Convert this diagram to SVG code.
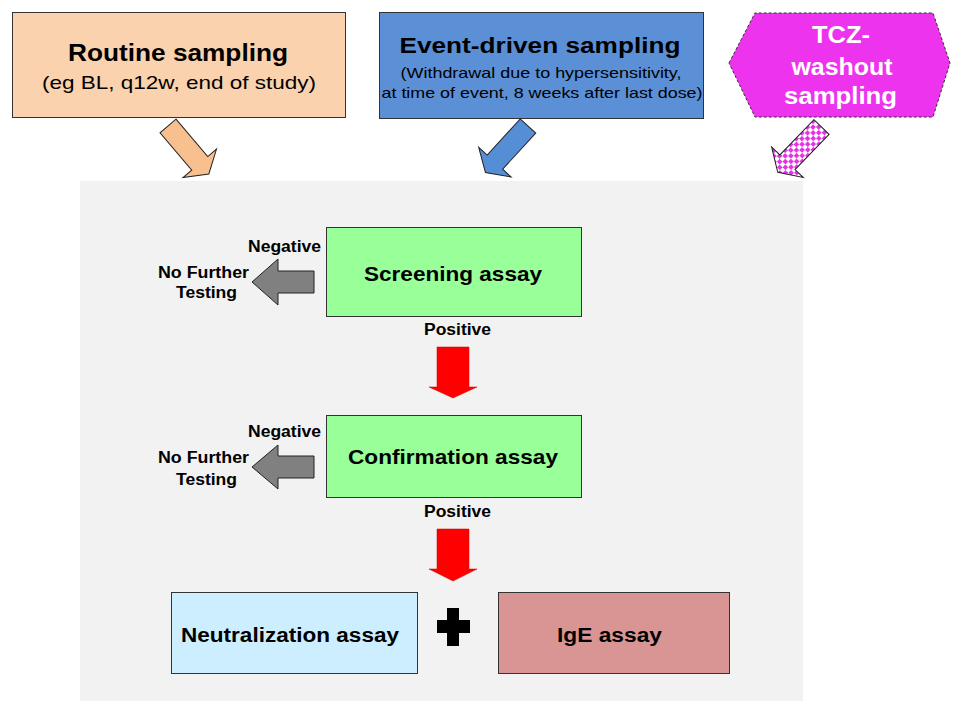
<svg xmlns="http://www.w3.org/2000/svg" width="955" height="701" viewBox="0 0 955 701">
  <defs>
    <pattern id="checker" patternUnits="userSpaceOnUse" width="8" height="8">
      <rect x="0" y="0" width="8" height="8" fill="#ffffff"/>
      <rect x="0" y="0" width="4" height="4" fill="#e633e6"/>
      <rect x="4" y="4" width="4" height="4" fill="#e633e6"/>
    </pattern>
    <path id="diagArrow" d="M0,-10.5 H49 V-22 L63,0 L49,22 V10.5 H0 Z"/>
  </defs>
  <style>
    text { font-family: "Liberation Sans", Arial, sans-serif; fill: #000; }
    .b { font-weight: bold; }
    .box { stroke: #333333; stroke-width: 1; }
    .arr { stroke: #222222; stroke-width: 1; stroke-linejoin: miter; }
    .lbl { font-size: 16px; font-weight: bold; }
  </style>
  <rect x="0" y="0" width="955" height="701" fill="#ffffff"/>
  <!-- panel -->
  <rect id="panel" x="80" y="181" width="723" height="520" fill="#f2f2f2"/>

  <g id="routine">
    <rect class="box" x="12.5" y="12.5" width="333" height="105" fill="#fbd2ae"/>
    <text class="b" x="178" y="61" font-size="24" text-anchor="middle" textLength="220" lengthAdjust="spacingAndGlyphs">Routine sampling</text>
    <text x="179" y="89" font-size="19" text-anchor="middle" textLength="274" lengthAdjust="spacingAndGlyphs">(eg BL, q12w, end of study)</text>
  </g>

  <g id="event">
    <rect class="box" x="379.5" y="12.5" width="324" height="106" fill="#5b8fd6"/>
    <text class="b" x="540" y="53" font-size="22" text-anchor="middle" textLength="281" lengthAdjust="spacingAndGlyphs">Event-driven sampling</text>
    <text x="541" y="78" font-size="15" text-anchor="middle" textLength="281" lengthAdjust="spacingAndGlyphs">(Withdrawal due to hypersensitivity,</text>
    <text x="542" y="98" font-size="15" text-anchor="middle" textLength="321" lengthAdjust="spacingAndGlyphs">at time of event, 8 weeks after last dose)</text>
  </g>

  <g id="tcz">
    <polygon points="729,63 755,13 933,13 950,63 933,117 755,117" fill="#ee33ee" stroke="#333333" stroke-width="1" stroke-dasharray="3,2"/>
    <text class="b" x="841" y="43" font-size="24" text-anchor="middle" textLength="58" lengthAdjust="spacingAndGlyphs" style="fill:#ffffff">TCZ-</text>
    <text class="b" x="842" y="75" font-size="24" text-anchor="middle" textLength="101" lengthAdjust="spacingAndGlyphs" style="fill:#ffffff">washout</text>
    <text class="b" x="840.5" y="104" font-size="24" text-anchor="middle" textLength="113" lengthAdjust="spacingAndGlyphs" style="fill:#ffffff">sampling</text>
  </g>

  <g id="screening">
    <rect class="box" x="326.5" y="227.5" width="255" height="89" fill="#99ff99"/>
    <text class="b" x="453" y="281" font-size="21" text-anchor="middle" textLength="178" lengthAdjust="spacingAndGlyphs">Screening assay</text>
  </g>

  <g id="confirmation">
    <rect class="box" x="326.5" y="415.5" width="255" height="82" fill="#99ff99"/>
    <text class="b" x="453" y="464" font-size="21" text-anchor="middle" textLength="210" lengthAdjust="spacingAndGlyphs">Confirmation assay</text>
  </g>

  <g id="nofurther1">
    <text class="lbl" x="203.5" y="278" text-anchor="middle" textLength="91" lengthAdjust="spacingAndGlyphs">No Further</text>
    <text class="lbl" x="206.5" y="298" text-anchor="middle" textLength="61" lengthAdjust="spacingAndGlyphs">Testing</text>
  </g>

  <g id="nofurther2">
    <text class="lbl" x="203.5" y="463" text-anchor="middle" textLength="91" lengthAdjust="spacingAndGlyphs">No Further</text>
    <text class="lbl" x="206.5" y="485" text-anchor="middle" textLength="61" lengthAdjust="spacingAndGlyphs">Testing</text>
  </g>

  <g id="neutralization">
    <rect class="box" x="171.5" y="592.5" width="246" height="81" fill="#cceeff"/>
    <text class="b" x="290" y="642" font-size="20" text-anchor="middle" textLength="218" lengthAdjust="spacingAndGlyphs">Neutralization assay</text>
  </g>

  <g id="plus">
    <rect x="447" y="608" width="12" height="38" fill="#000000"/>
    <rect x="437" y="620" width="33" height="13" fill="#000000"/>
  </g>

  <g id="ige">
    <rect class="box" x="498.5" y="592.5" width="231" height="81" fill="#d99594"/>
    <text class="b" x="609.5" y="642" font-size="20" text-anchor="middle" textLength="105" lengthAdjust="spacingAndGlyphs">IgE assay</text>
  </g>

  <g id="connectors">
    <use href="#diagArrow" class="arr" fill="#f9c08f" transform="translate(168,126) rotate(49.6)"/>
    <use href="#diagArrow" class="arr" fill="#558ed5" transform="translate(528,126) rotate(132.5)"/>
    <use href="#diagArrow" class="arr" fill="url(#checker)" transform="translate(821.5,127) rotate(134)"/>

    <polygon class="arr" points="314,271 278,271 278,259 252,282 278,305 278,293 314,293" fill="#808080"/>
    <text class="lbl" x="321" y="252" text-anchor="end" textLength="73" lengthAdjust="spacingAndGlyphs">Negative</text>
    <text class="lbl" x="457.5" y="335" text-anchor="middle" textLength="67" lengthAdjust="spacingAndGlyphs">Positive</text>
    <polygon points="437,347 469,347 469,387 477,387 453,398 429,387 437,387" fill="#ff0000" stroke="#cc0000" stroke-width="0.5"/>

    <polygon class="arr" points="314,456 278,456 278,445 252,467 278,489 278,478 314,478" fill="#808080"/>
    <text class="lbl" x="321" y="437" text-anchor="end" textLength="73" lengthAdjust="spacingAndGlyphs">Negative</text>
    <text class="lbl" x="457.5" y="517" text-anchor="middle" textLength="67" lengthAdjust="spacingAndGlyphs">Positive</text>
    <polygon points="437,529 469,529 469,569 477,569 453,581 429,569 437,569" fill="#ff0000" stroke="#cc0000" stroke-width="0.5"/>
  </g>
</svg>
